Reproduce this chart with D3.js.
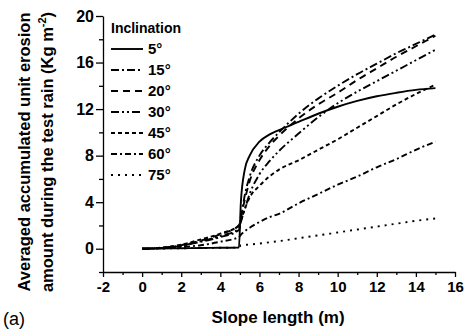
<!DOCTYPE html>
<html>
<head>
<meta charset="utf-8">
<script src="https://cdn.jsdelivr.net/npm/d3@7"></script>
<style>
  body { margin: 0; background: #fff; }
  text { font-family: Arial, "Liberation Sans", sans-serif; }
</style>
</head>
<body>
<div id="chart"></div>
<script>
// slope length positions (m) shared by every series
const slopeLength = [0, 1, 2, 3, 4, 4.95, 5.05, 5.25, 5.5, 6, 6.5, 7, 8, 9, 10, 11, 12, 13, 14, 15];

// averaged accumulated unit erosion (Kg m-2) per inclination
const erosion5 = [0, 0.02, 0.04, 0.06, 0.08, 0.1, 4.0, 6.8, 8.0, 9.2, 9.8, 10.2, 10.9, 11.6, 12.2, 12.7, 13.1, 13.4, 13.65, 13.8];
const erosion15 = [0, 0.06, 0.25, 0.6, 1.0, 1.6, 2.6, 4.6, 6.2, 8.0, 9.1, 10.0, 11.6, 12.9, 14.0, 15.0, 15.9, 16.8, 17.6, 18.4];
const erosion20 = [0, 0.08, 0.3, 0.7, 1.25, 2.0, 2.7, 4.2, 5.8, 7.6, 8.8, 9.7, 11.2, 12.4, 13.4, 14.5, 15.5, 16.5, 17.4, 18.3];
const erosion30 = [0, 0.07, 0.28, 0.65, 1.1, 1.7, 2.3, 3.4, 4.7, 6.4, 7.5, 8.4, 9.9, 11.3, 12.5, 13.5, 14.4, 15.3, 16.2, 17.1];
const erosion45 = [0, 0.1, 0.35, 0.8, 1.3, 2.0, 2.4, 3.4, 4.4, 5.4, 6.2, 6.8, 7.6, 8.5, 9.4, 10.4, 11.4, 12.4, 13.3, 14.1];
const erosion60 = [0, 0.05, 0.15, 0.3, 0.6, 1.0, 1.2, 1.5, 1.8, 2.3, 2.7, 3.0, 3.9, 4.7, 5.5, 6.2, 7.0, 7.7, 8.5, 9.2];
const erosion75 = [0, 0.02, 0.04, 0.06, 0.08, 0.1, 0.3, 0.33, 0.36, 0.45, 0.55, 0.65, 0.9, 1.15, 1.4, 1.65, 1.9, 2.15, 2.4, 2.6];

const inclinations = ['5°', '15°', '20°', '30°', '45°', '60°', '75°'];
const seriesValues = [erosion5, erosion15, erosion20, erosion30, erosion45, erosion60, erosion75];

const xTicks = [-2, 0, 2, 4, 6, 8, 10, 12, 14, 16];
const yTicks = [0, 4, 8, 12, 16, 20];

// line style for each inclination
const dashes = ['none', '8,3,2,3', '7,5', '8,3,2,3,2,3', '4,3', '6,3,2,3', '2,5'];

const width = 466, height = 329;
const margin = { top: 16, right: 11, bottom: 57, left: 103 };

const svg = d3.select('#chart')
  .append('svg')
  .attr('width', width)
  .attr('height', height);

const x = d3.scaleLinear().domain([-2, 16]).range([margin.left, width - margin.right]);
const y = d3.scaleLinear().domain([-2, 20]).range([height - margin.bottom, margin.top]);

// x axis
const xAxis = svg.append('g')
  .attr('transform', `translate(0,${height - margin.bottom})`);
xAxis.append('g')
  .call(d3.axisBottom(x).tickValues(d3.range(-1, 16, 2)).tickSize(3).tickFormat(''))
  .call(g => g.select('.domain').remove());
xAxis.append('g')
  .call(d3.axisBottom(x).tickValues(xTicks).tickSize(5).tickPadding(4).tickSizeOuter(0)
    .tickFormat(d => String(d)))
  .call(g => g.selectAll('text').attr('font-size', 15).attr('font-weight', 'bold').attr('fill', '#000'));

// y axis
const yAxis = svg.append('g')
  .attr('transform', `translate(${margin.left},0)`);
yAxis.append('g')
  .call(d3.axisLeft(y).tickValues([-2, 2, 6, 10, 14, 18]).tickSize(4).tickFormat(''))
  .call(g => g.select('.domain').remove());
yAxis.append('g')
  .call(d3.axisLeft(y).tickValues(yTicks).tickSize(7).tickPadding(2).tickSizeOuter(0)
    .tickFormat(d => String(d)))
  .call(g => g.selectAll('text').attr('font-size', 16).attr('font-weight', 'bold').attr('fill', '#000'));

svg.selectAll('.domain, .tick line').attr('stroke', '#000').attr('stroke-width', 1.3);

// curves
const line = d3.line()
  .x((d, i) => x(slopeLength[i]))
  .y(d => y(d))
  .curve(d3.curveMonotoneX);

svg.append('g')
  .selectAll('path')
  .data(seriesValues)
  .enter()
  .append('path')
  .attr('d', d => line(d))
  .attr('fill', 'none')
  .attr('stroke', '#000')
  .attr('stroke-width', 1.9)
  .attr('stroke-dasharray', (d, i) => dashes[i]);

// legend
const legend = svg.append('g').attr('transform', 'translate(111,0)');
legend.append('text')
  .attr('x', 0)
  .attr('y', 33)
  .attr('font-size', 14)
  .attr('font-weight', 'bold')
  .text('Inclination');

const rows = legend.selectAll('.row')
  .data(inclinations)
  .enter()
  .append('g')
  .attr('transform', (d, i) => `translate(0,${49 + i * 21})`);
rows.append('line')
  .attr('x1', 0).attr('x2', 32)
  .attr('stroke', '#000')
  .attr('stroke-width', 1.9)
  .attr('stroke-dasharray', (d, i) => dashes[i]);
rows.append('text')
  .attr('x', 37)
  .attr('y', 5)
  .attr('font-size', 15)
  .attr('font-weight', 'bold')
  .text(d => d);

// axis titles
svg.append('text')
  .attr('x', 278)
  .attr('y', 323)
  .attr('text-anchor', 'middle')
  .attr('font-size', 17)
  .attr('font-weight', 'bold')
  .text('Slope length (m)');

const yTitle = svg.append('text')
  .attr('transform', 'translate(30,152) rotate(-90)')
  .attr('text-anchor', 'middle')
  .attr('font-size', 16.5)
  .attr('font-weight', 'bold');
yTitle.append('tspan')
  .attr('x', 0).attr('y', 0)
  .text('Averaged accumulated unit erosion');
yTitle.append('tspan')
  .attr('x', 0).attr('y', 23)
  .text('amount during the test rain  (Kg m');
yTitle.append('tspan')
  .attr('font-size', 11)
  .attr('dy', -7)
  .text('-2');
yTitle.append('tspan')
  .attr('dy', 7)
  .text(')');

svg.append('text')
  .attr('x', 3)
  .attr('y', 325)
  .attr('font-size', 18)
  .text('(a)');
</script>
</body>
</html>
